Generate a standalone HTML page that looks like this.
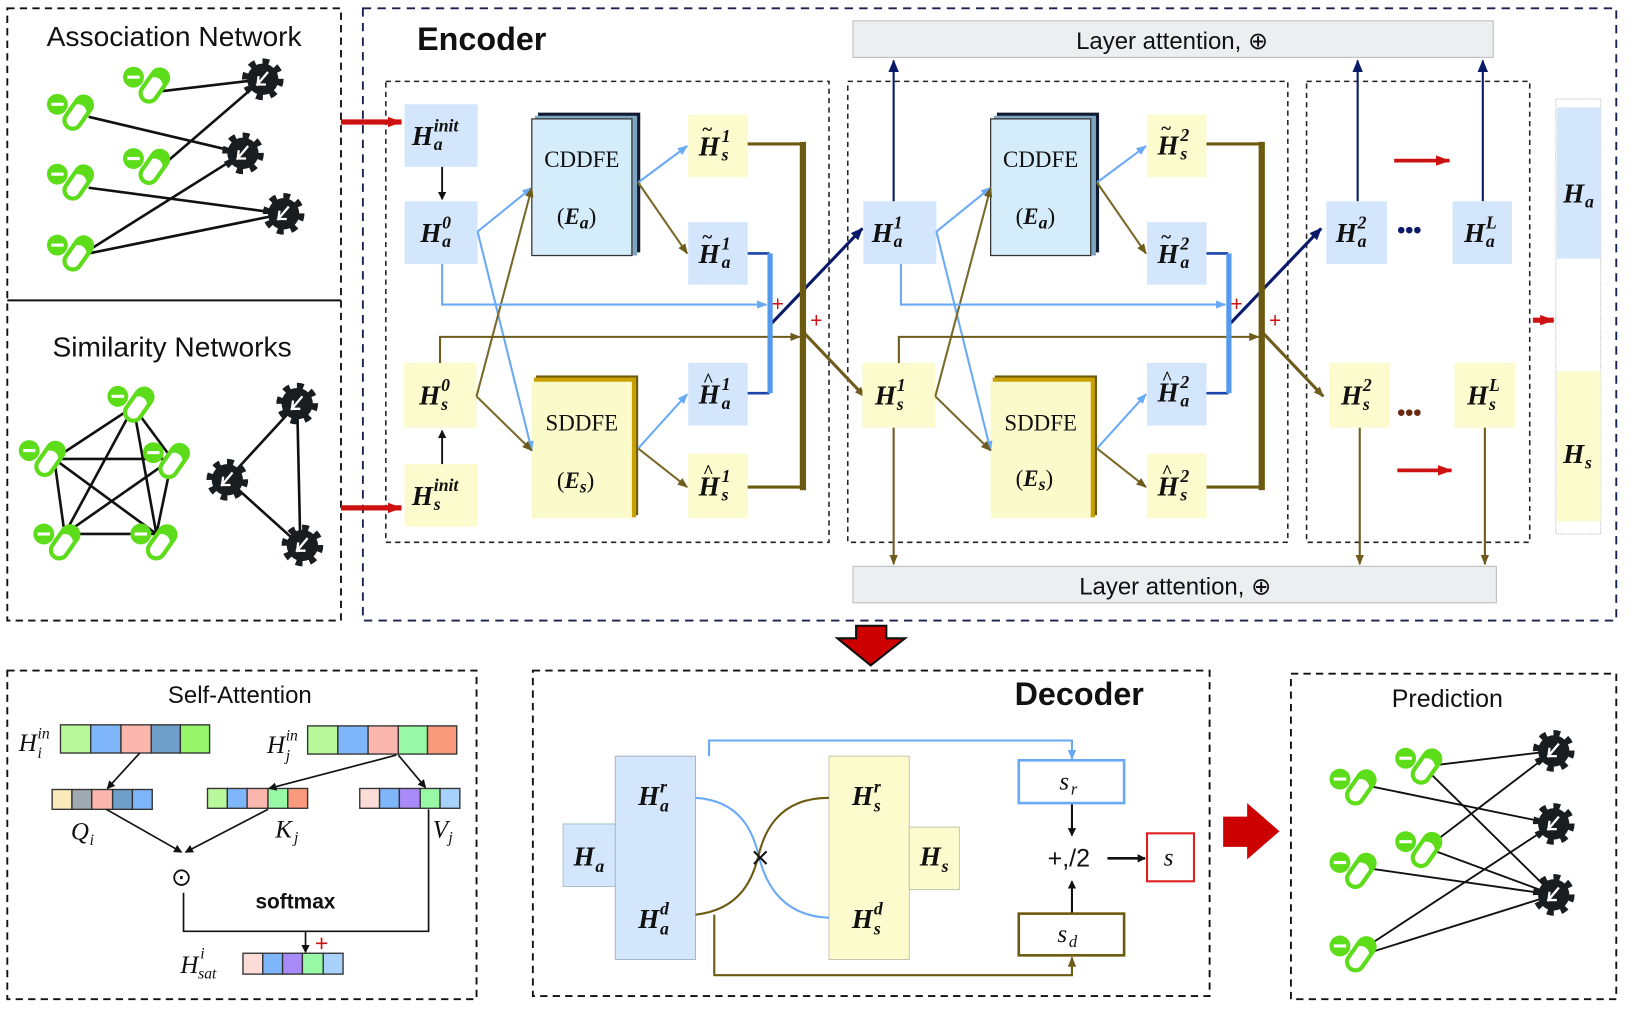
<!DOCTYPE html>
<html><head><meta charset="utf-8"><style>
html,body{margin:0;padding:0;background:#fff}
svg{display:block}
.t{font-family:"Liberation Sans",sans-serif;fill:#111}
.m{font-family:"Liberation Serif",serif;font-weight:bold;font-style:italic;font-size:26px;fill:#111}
.s{font-size:17px}
.r{font-family:"Liberation Serif",serif;font-size:22px;fill:#111}
</style></head><body>
<svg width="1634" height="1020" viewBox="0 0 1567 978" preserveAspectRatio="none" xmlns="http://www.w3.org/2000/svg">
<defs>
<marker id="ak" markerWidth="8" markerHeight="8" refX="7" refY="4" orient="auto" markerUnits="userSpaceOnUse"><path d="M0,0 L8,4 L0,8z" fill="#111"/></marker>
<marker id="ab" markerWidth="10" markerHeight="8" refX="9" refY="4" orient="auto" markerUnits="userSpaceOnUse"><path d="M0,0 L10,4 L0,8z" fill="#6aaaf5"/></marker>
<marker id="ao" markerWidth="10" markerHeight="8" refX="9" refY="4" orient="auto" markerUnits="userSpaceOnUse"><path d="M0,0 L10,4 L0,8z" fill="#6e5c1c"/></marker>
<marker id="an" markerWidth="12" markerHeight="10" refX="11" refY="5" orient="auto" markerUnits="userSpaceOnUse"><path d="M0,0 L12,5 L0,10z" fill="#0a1a6a"/></marker>
<marker id="ar" markerWidth="14" markerHeight="10" refX="13" refY="5" orient="auto" markerUnits="userSpaceOnUse"><path d="M0,0 L14,5 L0,10z" fill="#cc1111"/></marker>
<g id="pill">
<circle cx="-20" cy="-8" r="10" fill="#5ddc1a"/><rect x="-26" y="-9.5" width="12" height="3" fill="#fff"/>
<g transform="rotate(35)"><rect x="-8" y="-17" width="16" height="34" rx="8" fill="#fff" stroke="#5ddc1a" stroke-width="4"/><path d="M-8,0 A8,8 0 0 1 8,0 L8,-9 A8,8 0 0 0 -8,-9z" fill="#5ddc1a"/></g>
</g>
<g id="gear">
<circle r="16" fill="none" stroke="#1a1d20" stroke-width="8" stroke-dasharray="6 6.5"/>
<circle r="15" fill="#1a1d20"/>
<path d="M-6,6 L5,-7 M-4,-3 L-5,5 L3,5" stroke="#fff" stroke-width="2.2" fill="none"/>
</g>
</defs>

<rect x="7" y="8" width="320" height="587" fill="none" stroke="#111" stroke-width="1.8" stroke-dasharray="7 5"/>
<line x1="7" y1="288" x2="327" y2="288" stroke="#111" stroke-width="2"/>
<text class="t" x="167" y="44" font-size="27" text-anchor="middle">Association Network</text>
<text class="t" x="165" y="342" font-size="27" text-anchor="middle">Similarity Networks</text>
<g stroke="#111" stroke-width="2.5">
<line x1="150" y1="88" x2="252" y2="76"/><line x1="85" y1="112" x2="233" y2="147"/><line x1="152" y1="162" x2="252" y2="76"/>
<line x1="85" y1="180" x2="272" y2="205"/><line x1="85" y1="240" x2="233" y2="147"/><line x1="85" y1="243" x2="272" y2="205"/>
</g>
<use href="#pill" x="148" y="82"/><use href="#pill" x="75" y="108"/><use href="#pill" x="148" y="160"/><use href="#pill" x="75" y="175"/><use href="#pill" x="75" y="243"/>
<use href="#gear" x="252" y="76"/><use href="#gear" x="233" y="147"/><use href="#gear" x="272" y="205"/>
<g stroke="#111" stroke-width="2.5">
<line x1="128" y1="390" x2="52" y2="440"/><line x1="128" y1="390" x2="165" y2="440"/><line x1="128" y1="390" x2="62" y2="512"/><line x1="128" y1="390" x2="150" y2="512"/>
<line x1="52" y1="440" x2="165" y2="440"/><line x1="52" y1="440" x2="150" y2="512"/><line x1="52" y1="440" x2="62" y2="512"/>
<line x1="165" y1="440" x2="62" y2="512"/><line x1="165" y1="440" x2="150" y2="512"/><line x1="62" y1="512" x2="150" y2="512"/>
<line x1="285" y1="387" x2="218" y2="460"/><line x1="285" y1="387" x2="288" y2="523"/><line x1="218" y1="460" x2="288" y2="523"/>
</g>
<use href="#pill" x="133" y="388"/><use href="#pill" x="48" y="440"/><use href="#pill" x="167" y="442"/><use href="#pill" x="62" y="520"/><use href="#pill" x="155" y="520"/>
<use href="#gear" x="285" y="387"/><use href="#gear" x="218" y="460"/><use href="#gear" x="290" y="523"/>

<rect x="348" y="8" width="1202" height="587" fill="none" stroke="#1a2050" stroke-width="1.8" stroke-dasharray="8 6"/>
<text class="t" x="400" y="48" font-size="31" font-weight="bold">Encoder</text>
<rect x="818" y="20" width="614" height="35" fill="#eceff0" stroke="#bbb"/>
<text class="t" x="1124" y="47" font-size="23" text-anchor="middle">Layer attention, ⊕</text>
<rect x="818" y="543" width="617" height="35" fill="#eceff0" stroke="#bbb"/>
<text class="t" x="1127" y="570" font-size="23" text-anchor="middle">Layer attention, ⊕</text>
<g fill="none" stroke="#222" stroke-width="1.5" stroke-dasharray="5 4">
<rect x="370" y="78" width="425" height="442"/><rect x="813" y="78" width="422" height="442"/><rect x="1253" y="78" width="214" height="442"/>
</g>

<g id="blk">
<rect x="388" y="193" width="70" height="60" fill="#d3e6fb"/>
<rect x="387" y="348" width="70" height="62" fill="#fbfbcd"/>
<rect x="516" y="108" width="98" height="134" fill="#111a30"/><rect x="513" y="111" width="98" height="134" fill="#7fa6c0"/>
<rect x="510" y="114" width="96" height="131" fill="#d5ecfb" stroke="#333" stroke-width="1.2"/>
<rect x="514" y="360" width="98" height="134" fill="#6b5a10"/><rect x="512" y="362" width="98" height="134" fill="#c8a000"/>
<rect x="510" y="366" width="96" height="131" fill="#fbfacb"/>
<text class="r" x="558" y="160" text-anchor="middle">CDDFE</text>
<text class="r" x="558" y="413" text-anchor="middle">SDDFE</text>
<rect x="660" y="110" width="57" height="60" fill="#fbfbcd"/><rect x="660" y="213" width="57" height="60" fill="#d3e6fb"/>
<rect x="660" y="348" width="57" height="60" fill="#d3e6fb"/><rect x="660" y="435" width="57" height="62" fill="#fbfbcd"/>
<g fill="none" stroke-width="2">
<path d="M458,222 L510,180" stroke="#6aaaf5" marker-end="url(#ab)"/><path d="M458,222 L510,432" stroke="#6aaaf5" marker-end="url(#ab)"/>
<path d="M457,380 L510,180" stroke="#7a6a2a" marker-end="url(#ao)"/><path d="M457,380 L510,432" stroke="#7a6a2a" marker-end="url(#ao)"/>
<path d="M612,175 L659,140" stroke="#6aaaf5" marker-end="url(#ab)"/><path d="M612,175 L659,243" stroke="#7a6a2a" marker-end="url(#ao)"/>
<path d="M612,430 L659,378" stroke="#6aaaf5" marker-end="url(#ab)"/><path d="M612,430 L659,467" stroke="#7a6a2a" marker-end="url(#ao)"/>
<path d="M424,253 L424,292 L735,292" stroke="#6aaaf5" marker-end="url(#ab)"/>
<path d="M422,348 L422,323 L767,323" stroke="#6e5c1c" marker-end="url(#ao)"/>
<path d="M717,243 L738,243 M717,377 L738,377" stroke="#1a44aa" stroke-width="2.5"/>
<path d="M717,138 L770,138 M717,467 L770,467" stroke="#6b5a10" stroke-width="3"/>
<path d="M740,310 L827,219" stroke="#0a1a6a" stroke-width="3" marker-end="url(#an)"/>
<path d="M770,318 L829,380" stroke="#6e5c1c" stroke-width="3" marker-end="url(#ao)"/>
</g>
<rect x="736" y="243" width="5" height="134" fill="#5599ee"/>
<rect x="767" y="136" width="6" height="334" fill="#6b5a10"/>
<text x="740" y="298" font-size="20" fill="#cc1111" font-family="Liberation Sans">+</text>
<text x="777" y="314" font-size="20" fill="#cc1111" font-family="Liberation Sans">+</text>
</g>
<use href="#blk" x="440" y="0"/>

<rect x="388" y="100" width="70" height="60" fill="#d3e6fb"/>
<rect x="388" y="445" width="70" height="60" fill="#fbfbcd"/>
<line x1="327" y1="117" x2="385" y2="117" stroke="#cc1111" stroke-width="5" marker-end="url(#ar)"/>
<line x1="327" y1="487" x2="385" y2="487" stroke="#cc1111" stroke-width="5" marker-end="url(#ar)"/>
<line x1="424" y1="160" x2="424" y2="191" stroke="#111" stroke-width="1.8" marker-end="url(#ak)"/>
<line x1="424" y1="445" x2="424" y2="413" stroke="#111" stroke-width="1.8" marker-end="url(#ak)"/>
<g fill="none" stroke-width="2">
<path d="M857,193 L857,58" stroke="#0a1a6a" marker-end="url(#an)"/>
<path d="M1302,193 L1302,58" stroke="#0a1a6a" marker-end="url(#an)"/>
<path d="M1422,193 L1422,58" stroke="#0a1a6a" marker-end="url(#an)"/>
<path d="M857,410 L857,541" stroke="#6e5c1c" marker-end="url(#ao)"/>
<path d="M1304,410 L1304,541" stroke="#6e5c1c" marker-end="url(#ao)"/>
<path d="M1424,410 L1424,541" stroke="#6e5c1c" marker-end="url(#ao)"/>
</g>
<rect x="1272" y="193" width="58" height="60" fill="#d3e6fb"/><rect x="1393" y="193" width="57" height="60" fill="#d3e6fb"/>
<rect x="1275" y="348" width="58" height="62" fill="#fbfbcd"/><rect x="1395" y="348" width="58" height="62" fill="#fbfbcd"/>
<text x="1340" y="228" font-size="22" fill="#0a1a6a" font-family="Liberation Sans" font-weight="bold">•••</text>
<text x="1340" y="403" font-size="22" fill="#6b2a10" font-family="Liberation Sans" font-weight="bold">•••</text>
<line x1="1337" y1="154" x2="1390" y2="154" stroke="#cc1111" stroke-width="3.5" marker-end="url(#ar)"/>
<line x1="1340" y1="451" x2="1392" y2="451" stroke="#cc1111" stroke-width="3.5" marker-end="url(#ar)"/>
<line x1="1470" y1="307" x2="1490" y2="307" stroke="#cc1111" stroke-width="5" marker-end="url(#ar)"/>
<rect x="1492" y="95" width="43" height="417" fill="#fff" stroke="#bbb" stroke-width="1" stroke-dasharray="1 1"/>
<rect x="1493" y="103" width="42" height="145" fill="#d3e6fb"/><rect x="1493" y="356" width="42" height="144" fill="#fbfbcd"/>

<g class="m">
<text><tspan x="395" y="139">H</tspan><tspan class="s" x="416" y="126">init</tspan><tspan class="s" x="416" y="144">a</tspan></text>
<text><tspan x="403" y="232">H</tspan><tspan class="s" x="424" y="219">0</tspan><tspan class="s" x="424" y="237">a</tspan></text>
<text><tspan x="402" y="388">H</tspan><tspan class="s" x="423" y="375">0</tspan><tspan class="s" x="423" y="393">s</tspan></text>
<text><tspan x="395" y="484">H</tspan><tspan class="s" x="416" y="471">init</tspan><tspan class="s" x="416" y="489">s</tspan></text>
<text><tspan x="670" y="149">H</tspan><tspan class="s" x="692" y="136">1</tspan><tspan class="s" x="692" y="154">s</tspan><tspan x="673" y="130" font-size="18">~</tspan></text>
<text><tspan x="670" y="252">H</tspan><tspan class="s" x="692" y="239">1</tspan><tspan class="s" x="692" y="257">a</tspan><tspan x="673" y="233" font-size="18">~</tspan></text>
<text><tspan x="670" y="387">H</tspan><tspan class="s" x="692" y="374">1</tspan><tspan class="s" x="692" y="392">a</tspan><tspan x="674" y="370" font-size="18">^</tspan></text>
<text><tspan x="670" y="475">H</tspan><tspan class="s" x="692" y="462">1</tspan><tspan class="s" x="692" y="480">s</tspan><tspan x="674" y="458" font-size="18">^</tspan></text>
<text><tspan x="836" y="232">H</tspan><tspan class="s" x="857" y="219">1</tspan><tspan class="s" x="857" y="237">a</tspan></text>
<text><tspan x="839" y="388">H</tspan><tspan class="s" x="860" y="375">1</tspan><tspan class="s" x="860" y="393">s</tspan></text>
<text><tspan x="1110" y="148">H</tspan><tspan class="s" x="1132" y="135">2</tspan><tspan class="s" x="1132" y="153">s</tspan><tspan x="1113" y="129" font-size="18">~</tspan></text>
<text><tspan x="1110" y="252">H</tspan><tspan class="s" x="1132" y="239">2</tspan><tspan class="s" x="1132" y="257">a</tspan><tspan x="1113" y="233" font-size="18">~</tspan></text>
<text><tspan x="1110" y="385">H</tspan><tspan class="s" x="1132" y="372">2</tspan><tspan class="s" x="1132" y="390">a</tspan><tspan x="1114" y="368" font-size="18">^</tspan></text>
<text><tspan x="1110" y="475">H</tspan><tspan class="s" x="1132" y="462">2</tspan><tspan class="s" x="1132" y="480">s</tspan><tspan x="1114" y="458" font-size="18">^</tspan></text>
<text><tspan x="1281" y="232">H</tspan><tspan class="s" x="1302" y="219">2</tspan><tspan class="s" x="1302" y="237">a</tspan></text>
<text><tspan x="1404" y="232">H</tspan><tspan class="s" x="1425" y="219">L</tspan><tspan class="s" x="1425" y="237">a</tspan></text>
<text><tspan x="1286" y="388">H</tspan><tspan class="s" x="1307" y="375">2</tspan><tspan class="s" x="1307" y="393">s</tspan></text>
<text><tspan x="1407" y="388">H</tspan><tspan class="s" x="1428" y="375">L</tspan><tspan class="s" x="1428" y="393">s</tspan></text>
<text><tspan x="1499" y="194">H</tspan><tspan class="s" x="1520" y="199">a</tspan></text>
<text><tspan x="1499" y="444">H</tspan><tspan class="s" x="1520" y="449">s</tspan></text>
<text x="534" y="215" font-style="normal" font-weight="normal" font-size="22">(<tspan font-weight="bold" font-style="italic">E</tspan><tspan class="s" font-weight="bold" font-style="italic" dy="4">a</tspan><tspan dy="-4">)</tspan></text>
<text x="534" y="468" font-style="normal" font-weight="normal" font-size="22">(<tspan font-weight="bold" font-style="italic">E</tspan><tspan class="s" font-weight="bold" font-style="italic" dy="4">s</tspan><tspan dy="-4">)</tspan></text>
<text x="974" y="215" font-style="normal" font-weight="normal" font-size="22">(<tspan font-weight="bold" font-style="italic">E</tspan><tspan class="s" font-weight="bold" font-style="italic" dy="4">a</tspan><tspan dy="-4">)</tspan></text>
<text x="974" y="466" font-style="normal" font-weight="normal" font-size="22">(<tspan font-weight="bold" font-style="italic">E</tspan><tspan class="s" font-weight="bold" font-style="italic" dy="4">s</tspan><tspan dy="-4">)</tspan></text>
</g>

<path d="M821,600 L850,600 L850,612 L868,612 L835,638 L803,612 L821,612z" fill="#cc0000" stroke="#111" stroke-width="2"/>

<rect x="7" y="643" width="450" height="315" fill="none" stroke="#111" stroke-width="1.8" stroke-dasharray="7 5"/>
<text class="t" x="230" y="674" font-size="23" text-anchor="middle">Self-Attention</text>
<g stroke="#333" stroke-width="1.3">
<rect x="58" y="695" width="29" height="27" fill="#b9f79b"/><rect x="87" y="695" width="29" height="27" fill="#7fb6fa"/><rect x="116" y="695" width="29" height="27" fill="#fbb6ad"/><rect x="145" y="695" width="28" height="27" fill="#6f9ec8"/><rect x="173" y="695" width="28" height="27" fill="#96f56b"/>
<rect x="295" y="696" width="29" height="27" fill="#b9f79b"/><rect x="324" y="696" width="29" height="27" fill="#7fb6fa"/><rect x="353" y="696" width="29" height="27" fill="#fbb6ad"/><rect x="382" y="696" width="28" height="27" fill="#97f8a6"/><rect x="410" y="696" width="28" height="27" fill="#f99a7c"/>
<rect x="50" y="757" width="19" height="19" fill="#fbeab9"/><rect x="69" y="757" width="19" height="19" fill="#9fabb0"/><rect x="88" y="757" width="20" height="19" fill="#fbb6ad"/><rect x="108" y="757" width="19" height="19" fill="#6f9ec8"/><rect x="127" y="757" width="19" height="19" fill="#7fb6fa"/>
<rect x="199" y="756" width="19" height="19" fill="#b9f79b"/><rect x="218" y="756" width="19" height="19" fill="#7fb6fa"/><rect x="237" y="756" width="20" height="19" fill="#fbb6ad"/><rect x="257" y="756" width="19" height="19" fill="#97f8a6"/><rect x="276" y="756" width="19" height="19" fill="#f99a7c"/>
<rect x="345" y="756" width="19" height="19" fill="#fcdcd6"/><rect x="364" y="756" width="19" height="19" fill="#7fb6fa"/><rect x="383" y="756" width="20" height="19" fill="#a88af8"/><rect x="403" y="756" width="19" height="19" fill="#97f8a6"/><rect x="422" y="756" width="19" height="19" fill="#a9d2fb"/>
<rect x="233" y="914" width="19" height="20" fill="#fcdcd6"/><rect x="252" y="914" width="19" height="20" fill="#7fb6fa"/><rect x="271" y="914" width="19" height="20" fill="#a88af8"/><rect x="290" y="914" width="20" height="20" fill="#97f8a6"/><rect x="310" y="914" width="19" height="20" fill="#a9d2fb"/>
</g>
<g fill="none" stroke="#111" stroke-width="1.6">
<path d="M134,722 L103,756" marker-end="url(#ak)"/><path d="M380,724 L258,756" marker-end="url(#ak)"/><path d="M382,724 L408,755" marker-end="url(#ak)"/>
<path d="M102,776 L174,817" marker-end="url(#ak)"/><path d="M257,776 L178,817" marker-end="url(#ak)"/>
<path d="M176,856 L176,893 L411,893 L411,776"/><path d="M293,893 L293,913" marker-end="url(#ak)"/>
</g>
<text x="164" y="849" font-size="24" font-family="DejaVu Sans" fill="#111">⊙</text>
<text class="t" x="245" y="871" font-size="20" font-weight="bold">softmax</text>
<text x="302" y="912" font-size="22" fill="#cc1111" font-family="Liberation Sans">+</text>
<g font-family="Liberation Serif" font-style="italic" font-size="24" fill="#111">
<text><tspan x="18" y="720">H</tspan><tspan font-size="15" x="36" y="708">in</tspan><tspan font-size="15" x="36" y="727">i</tspan></text>
<text><tspan x="256" y="722">H</tspan><tspan font-size="15" x="274" y="710">in</tspan><tspan font-size="15" x="274" y="729">j</tspan></text>
<text><tspan x="68" y="805">Q</tspan><tspan font-size="15" x="86" y="810">i</tspan></text>
<text><tspan x="264" y="803">K</tspan><tspan font-size="15" x="282" y="808">j</tspan></text>
<text><tspan x="415" y="803">V</tspan><tspan font-size="15" x="430" y="808">j</tspan></text>
<text><tspan x="173" y="933">H</tspan><tspan font-size="15" x="192" y="919">i</tspan><tspan font-size="15" x="190" y="938">sat</tspan></text>
</g>

<rect x="511" y="643" width="649" height="312" fill="none" stroke="#111" stroke-width="1.8" stroke-dasharray="7 5"/>
<text class="t" x="1035" y="676" font-size="31" font-weight="bold" text-anchor="middle">Decoder</text>
<rect x="540" y="790" width="52" height="60" fill="#d3e6fb" stroke="#9bb" stroke-width="0.8"/>
<rect x="590" y="725" width="77" height="195" fill="#d3e6fb" stroke="#9ab" stroke-width="0.8"/>
<rect x="795" y="725" width="77" height="195" fill="#fbfbcd" stroke="#bba" stroke-width="0.8"/>
<rect x="872" y="793" width="48" height="60" fill="#fbfbcd" stroke="#bba" stroke-width="0.8"/>
<g fill="none" stroke-width="2">
<path d="M667,765 C712,768 722,800 727,818 C732,840 745,878 795,880" stroke="#6aaaf5"/>
<path d="M667,877 C712,872 722,840 727,822 C732,800 745,765 795,765" stroke="#6b5a10"/>
<path d="M680,725 L680,710 L1028,710 L1028,728" stroke="#6aaaf5" marker-end="url(#ab)"/>
<path d="M685,877 L685,935 L1028,935 L1028,918" stroke="#6b5a10" marker-end="url(#ao)"/>
<path d="M1028,771 L1028,801" stroke="#111" marker-end="url(#ak)"/>
<path d="M1028,875 L1028,845" stroke="#111" marker-end="url(#ak)"/>
<path d="M1062,823 L1098,823" stroke="#111" stroke-width="2.5" marker-end="url(#ak)"/>
</g>
<rect x="977" y="729" width="101" height="41" fill="#fff" stroke="#6aaaf5" stroke-width="2.5"/>
<rect x="977" y="876" width="101" height="40" fill="#fff" stroke="#6b5a10" stroke-width="2.5"/>
<rect x="1100" y="799" width="45" height="46" fill="#fff" stroke="#e02020" stroke-width="2"/>
<text x="719" y="830" font-size="24" font-family="DejaVu Sans" fill="#111">×</text>
<text x="1025" y="831" font-size="24" font-family="Liberation Sans" fill="#111" text-anchor="middle">+,/2</text>
<g font-family="Liberation Serif" font-style="italic" fill="#111" font-size="24">
<text><tspan x="1016" y="757">s</tspan><tspan font-size="16" x="1027" y="762">r</tspan></text>
<text><tspan x="1014" y="903">s</tspan><tspan font-size="16" x="1025" y="908">d</tspan></text>
<text x="1116" y="830">s</text>
</g>
<g class="m">
<text><tspan x="550" y="830">H</tspan><tspan class="s" x="571" y="836">a</tspan></text>
<text><tspan x="612" y="772">H</tspan><tspan class="s" x="633" y="760">r</tspan><tspan class="s" x="633" y="778">a</tspan></text>
<text><tspan x="612" y="890">H</tspan><tspan class="s" x="633" y="877">d</tspan><tspan class="s" x="633" y="896">a</tspan></text>
<text><tspan x="817" y="772">H</tspan><tspan class="s" x="838" y="760">r</tspan><tspan class="s" x="838" y="778">s</tspan></text>
<text><tspan x="817" y="890">H</tspan><tspan class="s" x="838" y="877">d</tspan><tspan class="s" x="838" y="896">s</tspan></text>
<text><tspan x="882" y="830">H</tspan><tspan class="s" x="903" y="836">s</tspan></text>
</g>
<path d="M1173,783 L1196,783 L1196,770 L1227,797 L1196,824 L1196,812 L1173,812z" fill="#cc0000"/>

<rect x="1238" y="646" width="312" height="312" fill="none" stroke="#111" stroke-width="1.8" stroke-dasharray="7 5"/>
<text class="t" x="1388" y="678" font-size="24" text-anchor="middle">Prediction</text>
<g stroke="#111" stroke-width="1.8">
<line x1="1365" y1="735" x2="1490" y2="720"/><line x1="1365" y1="735" x2="1490" y2="858"/><line x1="1305" y1="752" x2="1490" y2="790"/>
<line x1="1368" y1="813" x2="1490" y2="720"/><line x1="1368" y1="813" x2="1490" y2="858"/><line x1="1308" y1="832" x2="1490" y2="858"/>
<line x1="1310" y1="908" x2="1490" y2="790"/><line x1="1305" y1="916" x2="1490" y2="858"/>
</g>
<use href="#pill" x="1368" y="735"/><use href="#pill" x="1305" y="755"/><use href="#pill" x="1368" y="815"/><use href="#pill" x="1305" y="835"/><use href="#pill" x="1305" y="915"/>
<use href="#gear" x="1490" y="720"/><use href="#gear" x="1490" y="790"/><use href="#gear" x="1490" y="858"/>
</svg>
</body></html>
